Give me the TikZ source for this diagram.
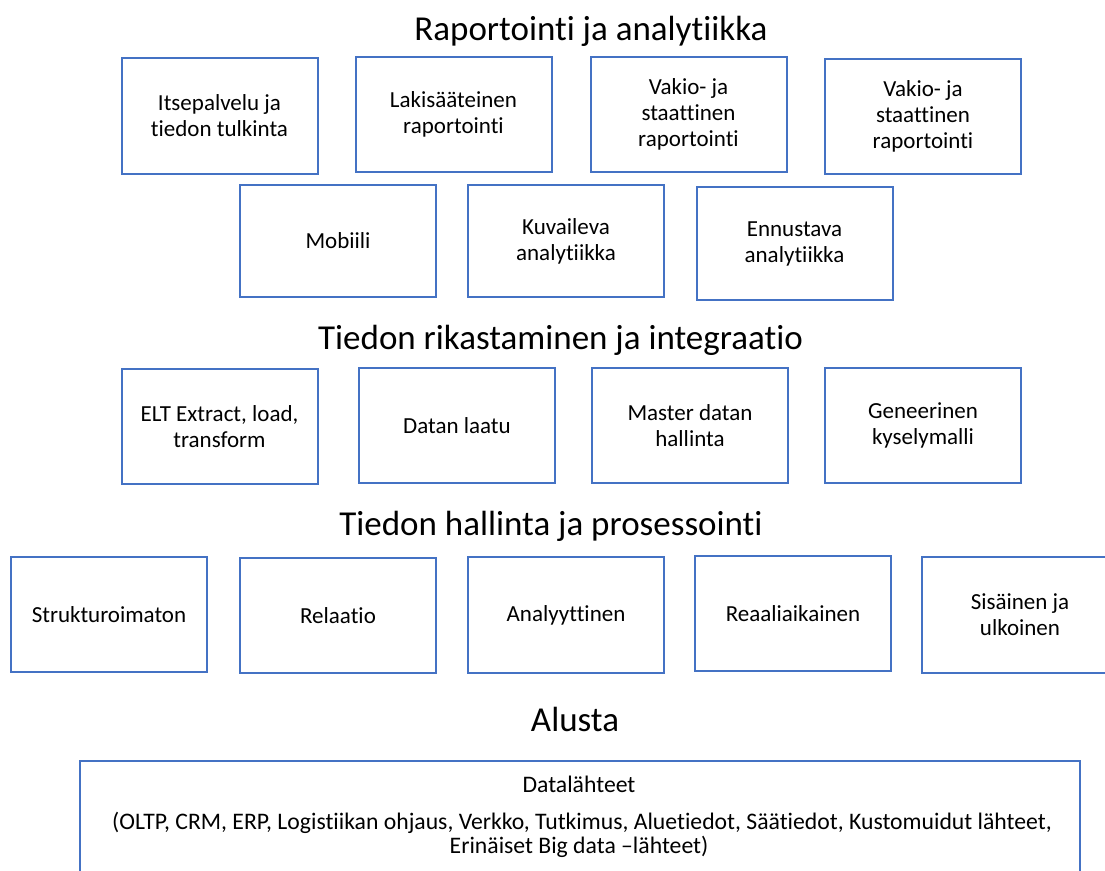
\documentclass[tikz,border=0pt]{standalone}
\usepackage{fontspec}
\setmainfont[RawFeature={-liga;-clig;-calt;-dlig}]{Carlito}
\definecolor{boxblue}{HTML}{4472C4}
\begin{document}
\begin{tikzpicture}[x=1pt,y=-1pt,
  layertitle/.style={anchor=base, inner sep=0pt, font=\fontsize{35}{42}\selectfont},
  item/.style={draw=boxblue, line width=2pt, align=center, inner sep=0pt,
    minimum width=196pt, minimum height=115pt,
    font=\fontsize{23}{26}\selectfont},
  srctext/.style={anchor=base, inner sep=0pt, font=\fontsize{23.7}{24}\selectfont}]
\useasboundingbox (0,0) rectangle (1105,870);

% Raportointi ja analytiikka
\node[layertitle] (t1) at (591,40) {Raportointi ja analytiikka};
\node[item, minimum height=116pt] (itse) at (219.5,116)   {Itsepalvelu ja\\tiedon tulkinta};
\node[item] (laki)   at (453.5,114.5) {Lakisääteinen\\raportointi};
\node[item] (vakioa) at (688.5,114.5) {Vakio- ja\\staattinen\\raportointi};
\node[item] (vakiob) at (923,116.5)   {Vakio- ja\\staattinen\\raportointi};
\node[item, minimum height=112pt] (mobiili) at (338,241)   {Mobiili};
\node[item, minimum height=112pt] (kuvail)  at (566,241)   {Kuvaileva\\analytiikka};
\node[item, minimum height=113pt] (ennust)  at (794.5,243.5) {Ennustava\\analytiikka};

% Tiedon rikastaminen ja integraatio
\node[layertitle] (t2) at (560.5,349) {Tiedon rikastaminen ja integraatio};
\node[item] (elt)    at (219.5,426.5) {ELT Extract, load,\\transform};
\node[item] (laatu)  at (457,425.5)   {Datan laatu};
\node[item] (master) at (690,425.5)   {Master datan\\hallinta};
\node[item] (geneer) at (923,425.5)   {Geneerinen\\kyselymalli};

% Tiedon hallinta ja prosessointi
\node[layertitle] (t3) at (551,535) {Tiedon hallinta ja prosessointi};
\node[item] (strukt)  at (109,614.5)  {Strukturoimaton};
\node[item] (relaat)  at (338,615.5)  {Relaatio};
\node[item, minimum height=116pt] (analyyt) at (566,615) {Analyyttinen};
\node[item] (reaali)  at (793,613.5)  {Reaaliaikainen};
\node[item, minimum height=116pt] (sisulk)  at (1020,615) {Sisäinen ja\\ulkoinen};

% Alusta
\node[layertitle] (t4) at (575,731) {Alusta};
\node[item, minimum width=1000pt, minimum height=140pt, anchor=north west] (lahteet) at (79,760) {};
\node[srctext] (lahtoots)  at (579,792) {Datalähteet};
\node[srctext] (lahtorivi) at (582,829) {(OLTP, CRM, ERP, Logistiikan ohjaus, Verkko, Tutkimus, Aluetiedot, Säätiedot, Kustomuidut lähteet,};
\node[srctext] (lahtoloppu) at (579,853) {Erinäiset Big data –lähteet)};
\end{tikzpicture}
\end{document}
